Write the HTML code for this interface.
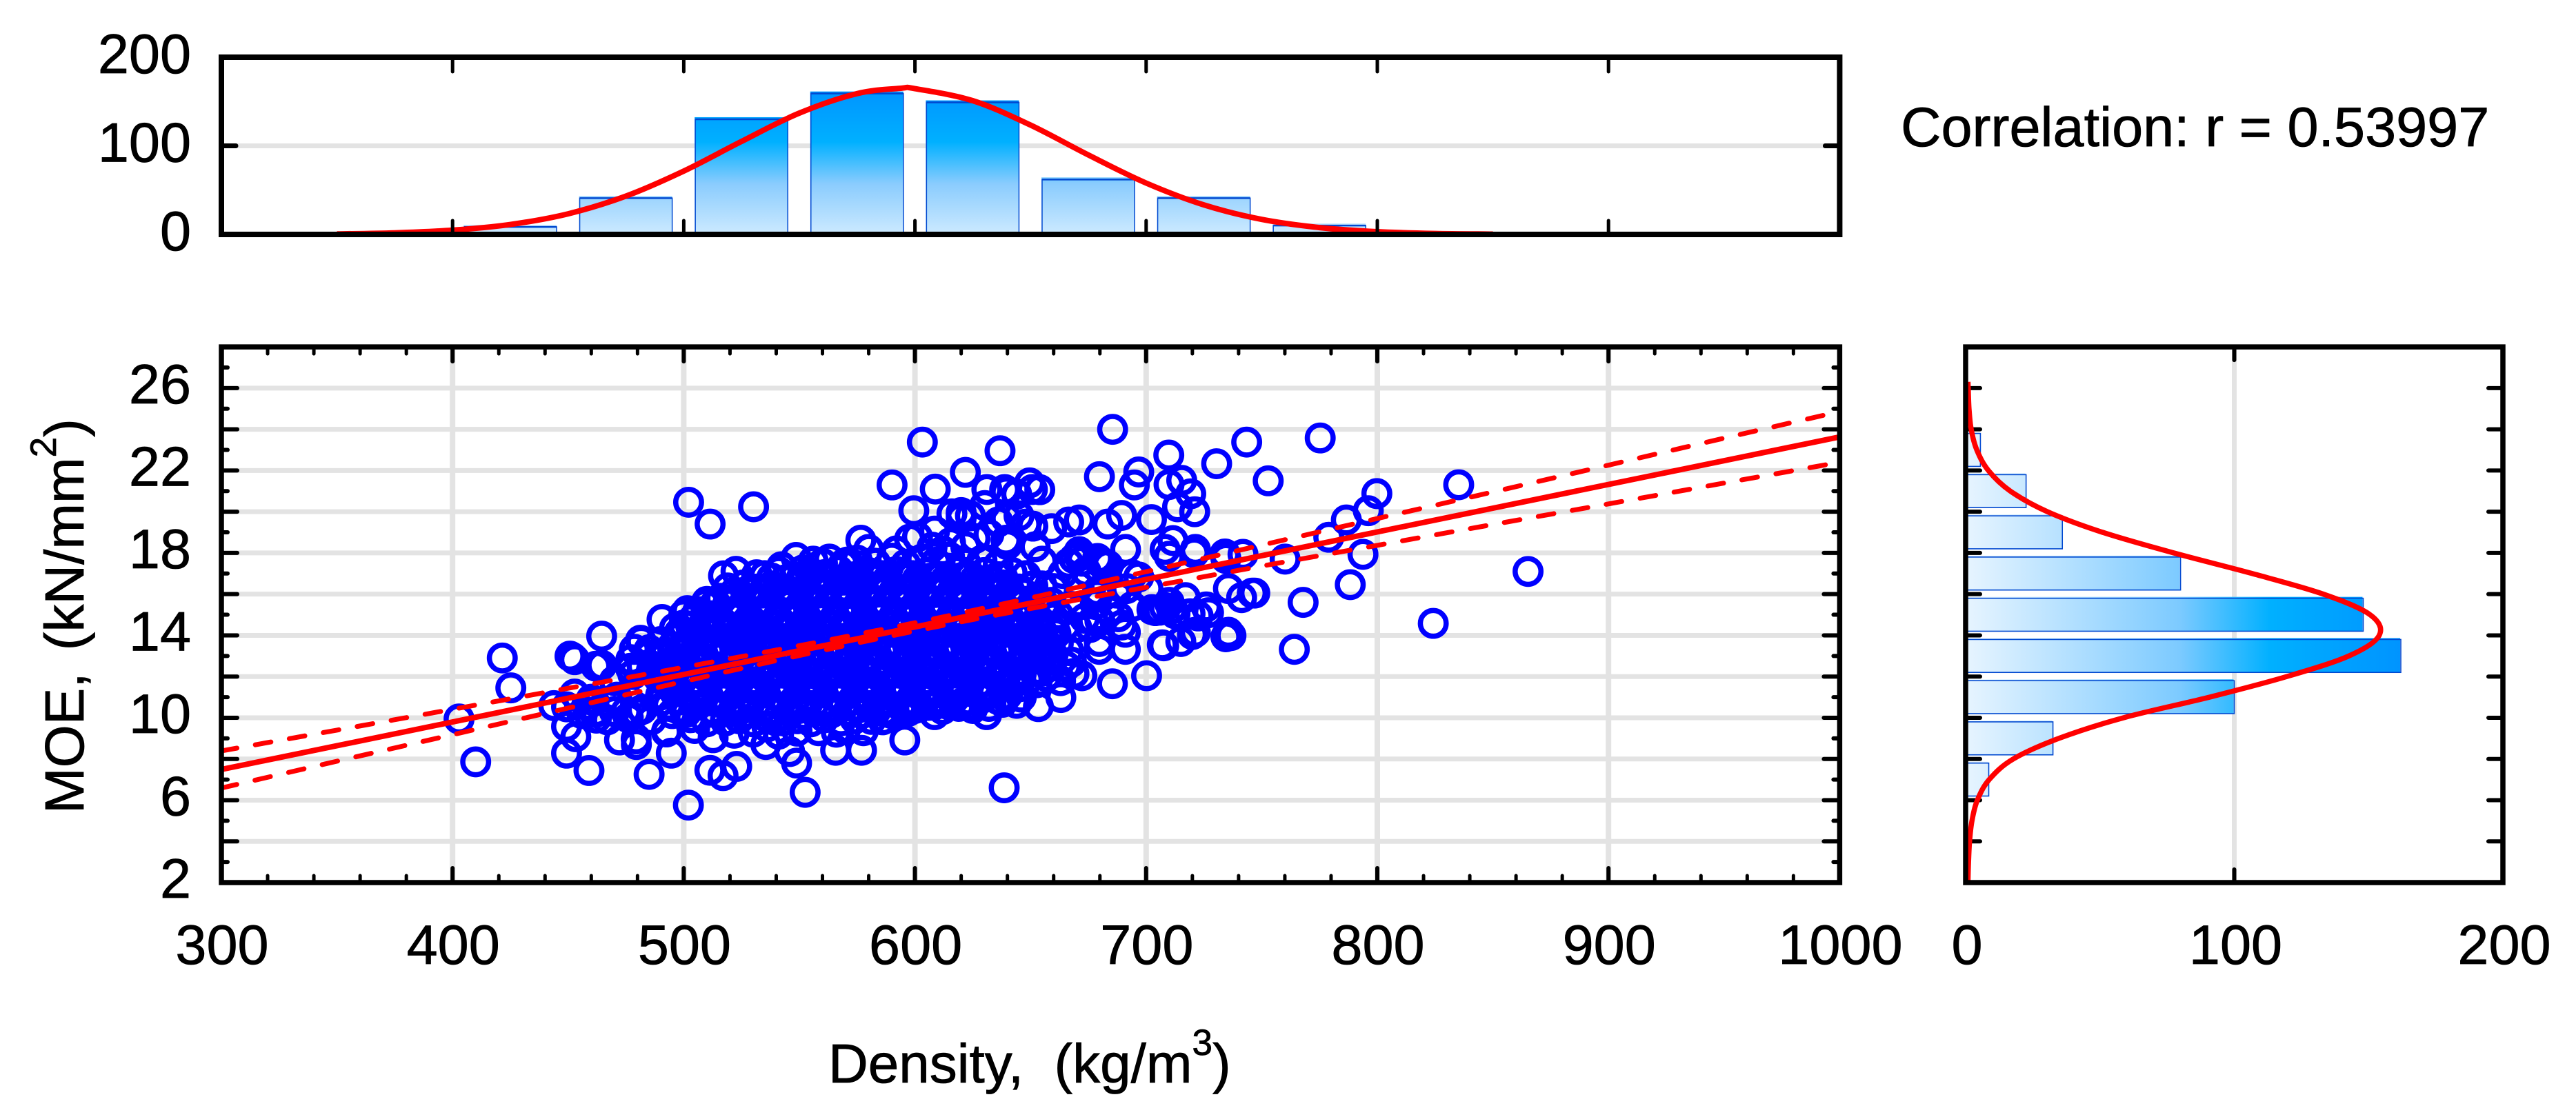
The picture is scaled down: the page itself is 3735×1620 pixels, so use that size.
<!DOCTYPE html>
<html lang="en">
<head>
<meta charset="utf-8">
<title>MOE vs Density correlation</title>
<style>
html,body{margin:0;padding:0;background:#fff;}
svg{display:block;font-family:"Liberation Sans",Arial,sans-serif;}
text{fill:#000;stroke:#000;stroke-width:0.8px;}
</style>
</head>
<body>
<svg id="chart" xmlns="http://www.w3.org/2000/svg" width="3735" height="1620" viewBox="0 0 3735 1620">
  <defs>
    <linearGradient id="vGrad" gradientUnits="userSpaceOnUse" x1="0" y1="340" x2="0" y2="130">
      <stop offset="0" stop-color="#cdeaff"/>
      <stop offset="0.35" stop-color="#8accfe"/>
      <stop offset="0.64" stop-color="#00b0ff"/>
      <stop offset="1" stop-color="#0094ff"/>
    </linearGradient>
    <linearGradient id="hGrad" gradientUnits="userSpaceOnUse" x1="2853" y1="0" x2="3481" y2="0">
      <stop offset="0" stop-color="#e6f4ff"/>
      <stop offset="0.49" stop-color="#7ccaff"/>
      <stop offset="0.70" stop-color="#00b0ff"/>
      <stop offset="1" stop-color="#0094ff"/>
    </linearGradient>
  </defs>
  <rect x="0" y="0" width="3735" height="1620" fill="#fff"/>
  <g id="topPanel"></g>
  <g id="mainPanel"></g>
  <g id="rightPanel"></g>
  <text x="2756" y="212" font-size="81" xml:space="preserve">Correlation: r = 0.53997</text>
  <text x="1201" y="1570" font-size="80" xml:space="preserve">Density,  (kg/m<tspan dy="-40" font-size="53">3</tspan><tspan dy="40">)</tspan></text>
  <text transform="translate(121,1180) rotate(-90)" x="0" y="0" font-size="80" xml:space="preserve">MOE, <tspan dx="10">(kN/mm</tspan><tspan dy="-40" font-size="53">2</tspan><tspan dy="40">)</tspan></text>
</svg>
<script>
// ---------- chart data ----------
const densityBins = [425,475,525,575,625,675,725,775];
const densityCounts = [8.5,41,130,159,149,62,41,10];
const densityCurveX = [350,375,400,425,450,475,500,525,550,575,594,600,625,650,675,700,725,750,775,800,825,850];
const densityCurveCount = [0.6,1.8,4.8,11.2,23.3,43.3,71.5,105,137,159,165,164.5,151,123.4,89.7,58,33.3,17,7.7,3.1,1.1,0.4];
const moeBins = [7,9,11,13,15,17,19,21,23];
const moeCounts = [8.6,32.5,100,162,148,80,36,22.5,5.5];
const moeCurveY = [2,3,4,5,6,7,8,9,10,11,12,13,14,15,16,17,18,19,20,21,22,23,24,25,26,26.3];
const moeCurveCount = [0.1,0.3,0.7,1.6,3.6,8,17,34,58,90,118.8,141.9,153.2,149.8,132.4,105.9,76.7,50.2,29.7,15.9,7.7,3.4,1.3,0.5,0.2,0.1];
const xTickLabels = [300,400,500,600,700,800,900,1000];
const yTickLabels = [2,6,10,14,18,22,26];
const yGridValues = [4,6,8,10,12,14,16,18,20,22,24,26];
const countTickLabels = [0,100,200];
const fitX = [300,1000];
const fitY = [7.49,23.63];
const bandX = [300,350,400,450,500,550,600,650,700,750,800,850,900,950,1000];
const bandUpper = [8.39,9.40,10.41,11.43,12.45,13.50,14.61,15.82,17.09,18.38,19.67,20.96,22.26,23.57,24.86];
const bandLower = [6.59,7.89,9.18,10.47,11.76,13.02,14.21,15.30,16.33,17.36,18.37,19.38,20.38,21.39,22.40];
const scatterOuter = [
[502.1,20.46],[511.4,19.4],[530.2,20.24],[603.2,23.38],[636.8,22.96],[621.8,21.91],[590.1,21.3],[608.8,21.1],[599.5,20.05],[631.1,21.08],[638.8,21.08],[649.6,21.4],[650.8,21.08],[654,21.07],
[685.5,24],[775.3,23.58],[743.5,23.38],[709.8,22.75],[730.5,22.33],[752.8,21.5],[679.8,21.7],[696.8,21.93],[694.9,21.3],[709.9,21.32],[715.4,21.52],[719.3,20.87],[713.6,20.24],[721,20],
[799.8,20.88],[796.1,20.05],[786.6,19.6],[779,18.76],[793.8,17.93],[788.3,16.46],[824.2,14.58],[767.9,15.6],[764.1,13.32],[760.1,17.7],[741.9,17.93],[734.5,17.73],[734.1,17.95],[721.3,18.17],[720.8,18],
[711.6,18.6],[708.2,18.17],[710,17.84],[659.1,19.18],[666.5,19.5],[671.1,19.6],[683.4,19.4],[689.4,19.82],[702.3,19.62],[835.2,21.31],[865.2,17.1],
[735.6,16.27],[741.3,15.83],[745.9,16.05],[747,16.05],[717,15.83],[705.9,15.22],[711,15.27],[710,15.6],[727,15.1],[722.5,14.94],[726,15.38],[719,15.05],[735.6,14.15],[734.5,13.93],[736.7,13.99],[721.3,14.15],[720,14.04],[715,13.7],[707,13.54],[707.6,13.49],
[691,13.32],[679.7,13.32],[691,14.15],[689.4,14.5],[679.7,13.7],[700.2,12.04],[685.4,11.65],[672.2,12.04],[663.1,10.98],[653.4,10.54],[708,15.35],[704,15.2],[712.5,15.05],[702.5,15.25],
[502,5.76],[638.6,6.6],[552.5,6.38],[485,7.25],[494.6,8.28],[511.3,7.45],[517,7.19],[522.9,7.64],[548.8,7.8],[545.8,8.36],[535.5,8.7],[565.7,8.42],[576.9,8.42],[595.6,8.92],[608.5,10.15],[597.1,10.31],[631,10.15],[623.4,10.59],
[479.5,8.7],[479.4,8.97],[492.7,9.37],[504.7,9.48],[512.7,9.03],[521.8,9.25],[558.3,9.37],[577.7,9.37],[581.2,9.92],[402.8,9.94],[410,7.86],[421.5,12.9],[425.2,11.45],[443.8,10.59],[449.3,10.53],[464.5,13.96],[451.8,12.93],[452.8,12.82],[450.8,12.99],[463.7,12.52],[464.6,12.55],
[449.3,9.58],[453.3,9.08],[449.3,8.28],[459,7.44],[472.2,8.92],[492.5,9.31],[462.2,9.98],[461.7,10.25],[461.2,10.81],[478.6,13.32],[481.6,13.71],[485.1,13.04],[477.1,12.82],[490.6,14.77],[501.5,15.2],[452.8,11.15],[500,13.27],
[509.2,15.5],[514,15.5],[481.3,13.76],[517.2,16.89],[522.6,17.11],[531.5,16.94],[542.3,17.33],[548.6,17.78],[551.5,17.17],[560,17.5],[570.9,17.56],[576.6,18.62],[580,18.17],[597.7,18.67],[601.1,18.78],[608.5,19.06],[615.4,18.5],[620,19.96],[620,19.85],[620,19.68],[616,19.9],[624,19.8],[639.4,19.68],[645,19.8],[636,19.5],[640,18.4],[639.4,18.62],[630.2,20.3],[639.4,20.96],[644,20.85],[632,18.9],[626,18.7],[648,19.4],[651,19.3],[607.4,18.28],[592,18.1],[612,18.1],[622,18.3],[652,18.3],
[655,17.6],[671,18.06],[671,17.84],[672.2,17.6],[679,17.73],[680,17.55],[668.8,17.73],[666.5,17.5],[681.5,17.4],[691.1,18.17],[683.5,17.4],[694,16.94],[696.8,16.83],[671,16.4],[679,16.16],[679,15.94],[691.6,16.27],[687,16.05],[655,16.4],[660,16.27],[700.8,16.27],[664,17],[674,17.1],
[673.4,14.83],[677,14.72],[675.7,14.38],[670,14.38],[662,13.6],[658.6,13.8],[666.5,13.26],[667.7,12.7],[665.4,12.5],[668.8,12.15],[659.7,13.04],[655.1,12.26],[656.8,12],[663,11.8],[652.8,11.7],[684,15.2],[694,15.4],[668,15.4],[678,15.5],[688,14.9],[680,14.7],
[458,10.6],[462,10.3],[468,10.7],[471,11],[475,10.3],[480,11.2],[485,11.6],[470,11.8],[478,12.1],[486,12.3],[482,12.5],[477,12.4],[491,13],[485,13.3],[462,12.5],[460,10.9],[490,10.8],[486,9.9],[476,10],[482,10.4],[494,11.5],[497,12.9],[497,13.9],[495,10.2],[470,10.3],[493.3,10.59],[501.2,10.26],[505.8,11.04],[479.5,10.26],[456,10.2],[467,9.9],[500,14.5],[505,14.9],[514,14.6]
];
const scatterCore = [
[556,17.6],[563,17.7],[569,17.45],[575,17.65],[583,17.5],[590,17.75],[596,17.45],[603,17.7],[609,17.55],[615,17.8],[622,17.5],[629,17.65],[636,17.4],
[535,16.9],[541,17.1],[548,16.85],[555,17.05],[561,16.95],[567,17.15],[574,16.85],[580,17.05],[586,16.9],[592,17.1],[599,16.9],[605,17.05],[611,16.85],[618,17.1],[624,16.9],[630,17.05],[636,16.85],[642,17.05],[648,16.9],
[519,16.3],[526,16.45],[532,16.25],[538,16.4],[544,16.2],[550,16.45],[557,16.3],[563,16.4],[570,16.2],[576,16.45],[582,16.3],[588,16.4],[595,16.2],[601,16.45],[607,16.3],[613,16.4],[620,16.25],[626,16.4],[632,16.2],[638,16.45],[645,16.25],[651,16.4],
[510,15.65],[516,15.8],[522,15.6],[528,15.8],[535,15.65],[541,15.75],[547,15.55],[553,15.8],[560,15.65],[566,15.75],[572,15.6],[578,15.8],[585,15.65],[591,15.75],[597,15.55],[603,15.8],[610,15.65],[616,15.75],[622,15.55],[628,15.8],[635,15.65],[641,15.75],[647,15.55],[653,15.8],[659,15.6],
[500,15],[506,15.15],[512,14.95],[519,15.1],[525,14.95],[531,15.15],[537,15],[543,15.1],[550,14.9],[556,15.15],[562,15],[568,15.1],[575,14.95],[581,15.15],[587,15],[593,15.1],[600,14.9],[606,15.15],[612,15],[618,15.1],[625,14.95],[631,15.15],[637,15],[643,15.1],[650,14.9],[656,15.1],[662,15],
[496,14.35],[503,14.45],[509,14.3],[516,14.5],[522,14.35],[528,14.45],[534,14.25],[541,14.5],[547,14.35],[553,14.45],[559,14.3],[566,14.5],[572,14.35],[578,14.45],[584,14.25],[591,14.5],[597,14.35],[603,14.45],[609,14.3],[616,14.5],[622,14.35],[628,14.45],[634,14.25],[641,14.5],[647,14.35],[653,14.45],[659,14.3],[665,14.45],
[490,13.7],[497,13.85],[503,13.65],[509,13.8],[515,13.7],[522,13.85],[528,13.65],[534,13.8],[540,13.7],[547,13.85],[553,13.6],[559,13.8],[565,13.7],[572,13.85],[578,13.65],[584,13.8],[590,13.7],[597,13.85],[603,13.6],[609,13.8],[615,13.7],[622,13.85],[628,13.65],[634,13.8],[640,13.7],[647,13.85],[653,13.6],[659,13.75],
[492,13.05],[498,13.15],[505,13],[511,13.2],[517,13.05],[523,13.15],[530,12.95],[536,13.2],[542,13.05],[548,13.15],[555,13],[561,13.2],[567,13.05],[573,13.15],[580,12.95],[586,13.2],[592,13.05],[598,13.15],[605,13],[611,13.2],[617,13.05],[623,13.15],[630,12.95],[636,13.2],[642,13.05],[648,13.15],[655,13],
[490,12.4],[496,12.55],[503,12.35],[509,12.5],[515,12.4],[521,12.55],[528,12.35],[534,12.5],[540,12.4],[546,12.55],[553,12.3],[559,12.5],[565,12.4],[571,12.55],[578,12.35],[584,12.5],[590,12.4],[596,12.55],[603,12.3],[609,12.5],[615,12.4],[621,12.55],[628,12.35],[634,12.5],[640,12.4],[646,12.55],[653,12.35],[659,12.5],
[492,11.75],[499,11.9],[505,11.7],[511,11.85],[517,11.7],[524,11.9],[530,11.75],[536,11.85],[542,11.65],[549,11.9],[555,11.75],[561,11.85],[567,11.7],[574,11.9],[580,11.75],[586,11.85],[592,11.65],[599,11.9],[605,11.75],[611,11.85],[617,11.7],[624,11.9],[630,11.75],[636,11.85],[642,11.65],[649,11.85],
[490,11.1],[496,11.25],[503,11.05],[509,11.2],[515,11.1],[521,11.25],[528,11.05],[534,11.2],[540,11.1],[546,11.25],[553,11],[559,11.2],[565,11.1],[571,11.25],[578,11.05],[584,11.2],[590,11.1],[596,11.25],[603,11],[609,11.2],[615,11.1],[621,11.25],[628,11.05],[634,11.2],[640,11.1],[646,11],
[500,10.45],[506,10.6],[512,10.4],[519,10.55],[525,10.45],[531,10.6],[537,10.35],[544,10.55],[550,10.45],[556,10.6],[562,10.4],[569,10.55],[575,10.45],[581,10.6],[587,10.35],[594,10.55],[600,10.45],[606,10.6],[612,10.4],[619,10.55],[625,10.45],[632,10.55],[638,10.75],[644,10.7],
[518,9.85],[524,9.95],[530,9.8],[536,10],[543,9.85],[549,9.95],[555,9.8],[561,10],[568,9.85],[574,9.95],[586,9.9],
[530,9.3],[541,9.2],[549,9.35],[566,9.3],[570,9.45],[536,9.55],[510,9.8],[503,10],[590,10.2]
];
const scatterDense = [
[538,16.78],[544,16.7],[551,16.82],[557,16.72],[563,16.78],[569,16.68],[576,16.8],[582,16.74],[588,16.7],[594,16.82],[601,16.72],[607,16.78],[613,16.68],[620,16.8],[626,16.74],[632,16.7],[638,16.8],
[522,16.1],[528,16.18],[534,16.05],[541,16.15],[547,16.08],[553,16.2],[559,16.06],[566,16.14],[572,16.04],[578,16.18],[584,16.1],[591,16.16],[597,16.02],[603,16.18],[609,16.08],[616,16.14],[622,16.04],[628,16.18],[634,16.06],[641,16.16],[647,16.04],
[513,15.45],[519,15.52],[525,15.4],[531,15.52],[538,15.44],[544,15.5],[550,15.38],[556,15.54],[563,15.44],[569,15.5],[575,15.4],[581,15.52],[588,15.44],[594,15.5],[600,15.38],[606,15.54],[613,15.44],[619,15.5],[625,15.38],[631,15.54],[638,15.44],[644,15.5],[650,15.38],[656,15.52],
[504,14.78],[510,14.86],[516,14.74],[522,14.84],[529,14.76],[535,14.86],[541,14.78],[547,14.82],[554,14.72],[560,14.86],[566,14.78],[572,14.84],[579,14.74],[585,14.86],[591,14.78],[597,14.82],[604,14.72],[610,14.86],[616,14.78],[622,14.84],[629,14.74],[635,14.86],[641,14.78],[647,14.82],[654,14.72],[660,14.84],
[498,14.12],[505,14.18],[511,14.08],[518,14.2],[524,14.12],[530,14.18],[536,14.04],[543,14.2],[549,14.12],[555,14.18],[561,14.08],[568,14.2],[574,14.12],[580,14.18],[586,14.04],[593,14.2],[599,14.12],[605,14.18],[611,14.08],[618,14.2],[624,14.12],[630,14.18],[636,14.04],[643,14.2],[649,14.12],[655,14.18],[661,14.08],
[495,13.46],[501,13.54],[507,13.42],[513,13.52],[519,13.46],[526,13.54],[532,13.42],[538,13.52],[544,13.46],[551,13.54],[557,13.38],[563,13.52],[569,13.46],[576,13.54],[582,13.42],[588,13.52],[594,13.46],[601,13.54],[607,13.38],[613,13.52],[619,13.46],[626,13.54],[632,13.42],[638,13.52],[644,13.46],[651,13.54],[657,13.4],
[497,12.82],[503,12.88],[509,12.78],[515,12.9],[521,12.82],[528,12.88],[534,12.74],[540,12.9],[546,12.82],[553,12.88],[559,12.78],[565,12.9],[571,12.82],[578,12.88],[584,12.74],[590,12.9],[596,12.82],[603,12.88],[609,12.78],[615,12.9],[621,12.82],[628,12.88],[634,12.74],[640,12.9],[646,12.82],[653,12.86],
[496,12.16],[503,12.24],[509,12.12],[515,12.22],[521,12.16],[527,12.24],[533,12.12],[540,12.22],[546,12.16],[552,12.24],[558,12.08],[565,12.22],[571,12.16],[577,12.24],[583,12.12],[590,12.22],[596,12.16],[602,12.24],[608,12.08],[615,12.22],[621,12.16],[627,12.24],[633,12.12],[640,12.22],[646,12.16],[652,12.24],
[496,11.52],[502,11.58],[508,11.48],[514,11.6],[521,11.52],[527,11.58],[533,11.44],[539,11.6],[546,11.52],[552,11.58],[558,11.48],[564,11.6],[571,11.52],[577,11.58],[583,11.44],[589,11.6],[596,11.52],[602,11.58],[608,11.48],[614,11.6],[621,11.52],[627,11.58],[633,11.44],[639,11.6],[645,11.5],
[498,10.86],[504,10.94],[511,10.82],[517,10.92],[523,10.86],[529,10.94],[536,10.82],[542,10.92],[548,10.86],[554,10.94],[561,10.78],[567,10.92],[573,10.86],[579,10.94],[586,10.82],[592,10.92],[598,10.86],[604,10.94],[611,10.78],[617,10.92],[623,10.86],[629,10.94],[636,10.88],
[514,10.24],[521,10.3],[527,10.2],[533,10.32],[539,10.24],[546,10.3],[552,10.16],[558,10.32],[564,10.24],[571,10.3],[577,10.2],[583,10.32],[589,10.24],[596,10.46],[602,10.5],[608,10.6],[614,10.66],[620,10.7]
];

// ---------- axes ----------
function xScale(v){return 321+(v-300)*3.352;}
function yScale(v){return 1280-(v-2)*29.88;}
function topY(v){return 340-v*1.285;}
function rightX(v){return 2850+v*3.895;}

const SVGNS='http://www.w3.org/2000/svg';
function mk(parent,tag,attrs,text){
  const el=document.createElementNS(SVGNS,tag);
  for(const k in attrs){el.setAttribute(k,attrs[k]);}
  if(text!==undefined){el.textContent=text;}
  parent.appendChild(el);
  return el;
}
function smoothPath(pts){
  let d='M'+pts[0][0].toFixed(1)+' '+pts[0][1].toFixed(1);
  for(let i=0;i<pts.length-1;i++){
    const p0=pts[Math.max(i-1,0)],p1=pts[i],p2=pts[i+1],p3=pts[Math.min(i+2,pts.length-1)];
    const c1x=p1[0]+(p2[0]-p0[0])/6,c1y=p1[1]+(p2[1]-p0[1])/6;
    const c2x=p2[0]-(p3[0]-p1[0])/6,c2y=p2[1]-(p3[1]-p1[1])/6;
    d+='C'+c1x.toFixed(1)+' '+c1y.toFixed(1)+' '+c2x.toFixed(1)+' '+c2y.toFixed(1)+' '+p2[0].toFixed(1)+' '+p2[1].toFixed(1);
  }
  return d;
}
const GRID='#e3e3e3',BAR_LINE='#0048d0',RED='#ff0000';
const LEFT=xScale(300),RIGHT=xScale(1000),TOP=yScale(28),BOTTOM=yScale(2);
const TICK_FONT=81;

// ---------- top histogram ----------
const topP=document.getElementById('topPanel');
const topGrid=mk(topP,'line',{x1:LEFT,x2:RIGHT,y1:topY(100),y2:topY(100),stroke:GRID,'stroke-width':7});


densityBins.forEach(function(b,i){
  const x0=xScale(b-20),x1=xScale(b+20),yv=topY(densityCounts[i]),y0=topY(0);
  const fill=mk(topP,'rect',{x:x0-1,y:yv-3,width:x1-x0+1,height:y0-yv+3,fill:'url(#vGrad)'});
  
  
  const outline=mk(topP,'rect',{x:x0,y:yv,width:x1-x0,height:y0-yv,fill:'none',stroke:BAR_LINE,'stroke-width':1.5});
  
  
  const cap=mk(topP,'line',{x1:x0,x2:x1,y1:yv,y2:yv,stroke:BAR_LINE,'stroke-width':2.5});
  
  
});
const topCurve=mk(topP,'path',{d:smoothPath(densityCurveX.map(function(x,i){return [xScale(x),topY(densityCurveCount[i])];})),fill:'none',stroke:RED,'stroke-width':8});


xTickLabels.slice(1,-1).forEach(function(v){
  const a=mk(topP,'line',{x1:xScale(v),x2:xScale(v),y1:87,y2:104,stroke:'#000','stroke-width':5,'stroke-linecap':'round'});
  
  
  const b=mk(topP,'line',{x1:xScale(v),x2:xScale(v),y1:320,y2:337,stroke:'#000','stroke-width':5,'stroke-linecap':'round'});
  
  
});
[LEFT,RIGHT].forEach(function(x){
  const t=mk(topP,'line',{x1:x,x2:x===LEFT?x+21:x-21,y1:topY(100),y2:topY(100),stroke:'#000','stroke-width':7,'stroke-linecap':'round'});
  
  
});
const topFrame=mk(topP,'rect',{x:LEFT,y:83,width:RIGHT-LEFT,height:257,fill:'none',stroke:'#000'});
topFrame.setAttribute('stroke-width','8');


countTickLabels.forEach(function(v){
  const t=mk(topP,'text',{x:277,y:topY(v)+23,'text-anchor':'end','font-size':TICK_FONT},String(v));
  
  
});

// ---------- main scatter ----------
const mainP=document.getElementById('mainPanel');
xTickLabels.slice(1,-1).forEach(function(v){
  const g=mk(mainP,'line',{x1:xScale(v),x2:xScale(v),y1:TOP,y2:BOTTOM,stroke:GRID,'stroke-width':8});
  
  
});
yGridValues.forEach(function(v){
  const g=mk(mainP,'line',{x1:LEFT,x2:RIGHT,y1:yScale(v),y2:yScale(v),stroke:GRID,'stroke-width':7});
  
  
});
scatterOuter.concat(scatterCore,scatterDense).forEach(function(p){
  const c=mk(mainP,'circle',{cx:xScale(p[0]),cy:yScale(p[1]),r:18.7,fill:'none',stroke:'#0000ff','stroke-width':7.5});
  
  
});
const upperBand=mk(mainP,'path',{d:smoothPath(bandX.map(function(x,i){return [xScale(x),yScale(bandUpper[i])];})),fill:'none',stroke:RED,'stroke-width':7,'stroke-dasharray':'23 27','stroke-linecap':'round'});


const lowerBand=mk(mainP,'path',{d:smoothPath(bandX.map(function(x,i){return [xScale(x),yScale(bandLower[i])];})),fill:'none',stroke:RED,'stroke-width':7,'stroke-dasharray':'23 27','stroke-linecap':'round'});


const fitLine=mk(mainP,'line',{x1:xScale(fitX[0]),y1:yScale(fitY[0]),x2:xScale(fitX[1]),y2:yScale(fitY[1]),stroke:RED,'stroke-width':8});


for(let v=320;v<1000;v+=20){
  const major=v%100===0;
  const len=major?18:7,w=major?6:5;
  const a=mk(mainP,'line',{x1:xScale(v),x2:xScale(v),y1:TOP+3,y2:TOP+3+len,stroke:'#000','stroke-width':w,'stroke-linecap':'round'});
  
  
  const b=mk(mainP,'line',{x1:xScale(v),x2:xScale(v),y1:BOTTOM-3,y2:BOTTOM-3-len,stroke:'#000','stroke-width':w,'stroke-linecap':'round'});
  
  
}
for(let v=3;v<28;v++){
  const major=v%2===0;
  const len=major?20:6,w=6;
  const a=mk(mainP,'line',{x1:LEFT+3,x2:LEFT+3+len,y1:yScale(v),y2:yScale(v),stroke:'#000','stroke-width':w,'stroke-linecap':'round'});
  
  
  const b=mk(mainP,'line',{x1:RIGHT-3,x2:RIGHT-3-len,y1:yScale(v),y2:yScale(v),stroke:'#000','stroke-width':w,'stroke-linecap':'round'});
  
  
}
const mainFrame=mk(mainP,'rect',{x:LEFT,y:TOP,width:RIGHT-LEFT,height:BOTTOM-TOP,fill:'none',stroke:'#000','stroke-width':7.5});


xTickLabels.forEach(function(v){
  const t=mk(mainP,'text',{x:xScale(v)+1,y:1398,'text-anchor':'middle','font-size':TICK_FONT},String(v));
  
  
});
yTickLabels.forEach(function(v){
  const t=mk(mainP,'text',{x:277,y:yScale(v)+22,'text-anchor':'end','font-size':TICK_FONT},String(v));
  
  
});

// ---------- right histogram ----------
const rightP=document.getElementById('rightPanel');
const rightGrid=mk(rightP,'line',{x1:rightX(100),x2:rightX(100),y1:TOP,y2:BOTTOM,stroke:GRID,'stroke-width':7});


yGridValues.forEach(function(v){
  const a=mk(rightP,'line',{x1:rightX(0)+3,x2:rightX(0)+21,y1:yScale(v),y2:yScale(v),stroke:'#000','stroke-width':6,'stroke-linecap':'round'});
  
  
  const b=mk(rightP,'line',{x1:rightX(200)-3,x2:rightX(200)-21,y1:yScale(v),y2:yScale(v),stroke:'#000','stroke-width':6,'stroke-linecap':'round'});
  
  
});
moeBins.forEach(function(b,i){
  const y0=yScale(b+0.8),y1=yScale(b-0.8),x0=rightX(0),xv=rightX(moeCounts[i]);
  const fill=mk(rightP,'rect',{x:x0,y:y0-2,width:xv-x0-1,height:y1-y0+2,fill:'url(#hGrad)'});
  
  
  const outline=mk(rightP,'rect',{x:x0,y:y0,width:xv-x0,height:y1-y0,fill:'none',stroke:BAR_LINE,'stroke-width':1.6});
  
  
});
const rightCurve=mk(rightP,'path',{d:smoothPath(moeCurveY.map(function(y,i){return [rightX(moeCurveCount[i])+3,yScale(y)];})),fill:'none',stroke:RED,'stroke-width':7.5});


[TOP+3,BOTTOM-3].forEach(function(y){
  const t=mk(rightP,'line',{x1:rightX(100),x2:rightX(100),y1:y,y2:y===TOP+3?y+16:y-16,stroke:'#000','stroke-width':6,'stroke-linecap':'round'});
  
  
});
const rightFrame=mk(rightP,'rect',{x:rightX(0),y:TOP,width:rightX(200)-rightX(0),height:BOTTOM-TOP,fill:'none',stroke:'#000','stroke-width':7.5});


countTickLabels.forEach(function(v){
  const t=mk(rightP,'text',{x:rightX(v)+2,y:1398,'text-anchor':'middle','font-size':TICK_FONT},String(v));
  
  
});
</script>
</body>
</html>
